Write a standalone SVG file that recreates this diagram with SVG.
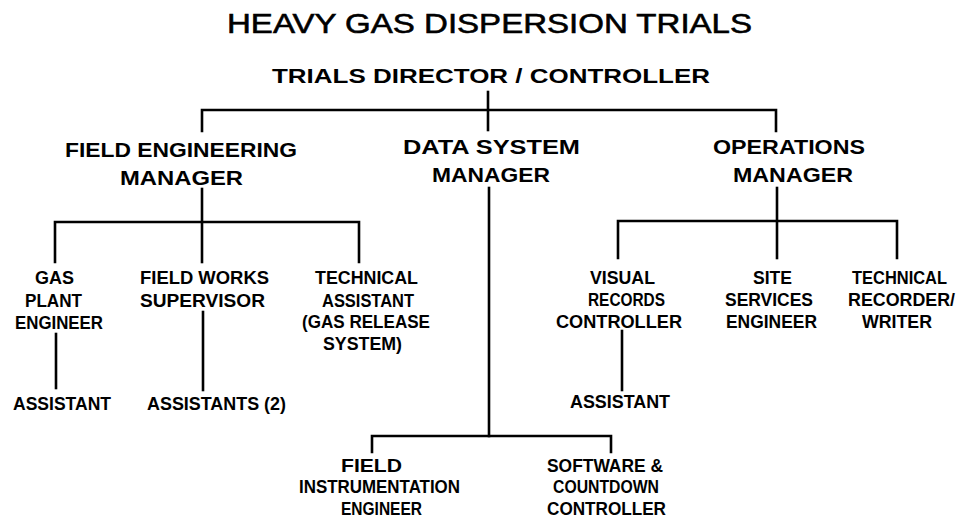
<svg xmlns="http://www.w3.org/2000/svg" width="965" height="519" viewBox="0 0 965 519">
  <style>
    text { font-family: "Liberation Sans", Arial, sans-serif; fill: #000; }
    .title { font-size: 28px; font-weight: normal; stroke: #000; stroke-width: 0.6; }
    .head { font-size: 20px; font-weight: bold; }
    .lbl { font-size: 19px; font-weight: bold; }
    .link { fill: none; stroke: #000; stroke-width: 2.6; stroke-linecap: square; }
  </style>
  <rect width="965" height="519" fill="#fff"/>

  <!-- connectors -->
  <g id="connectors">
    <!-- director to managers -->
    <path class="link" d="M488 92 V130"/>
    <path class="link" d="M202 131 V110 H776 V131"/>
    <!-- field engineering branch -->
    <path class="link" d="M202 189 V262"/>
    <path class="link" d="M55 262 V222 H359 V262"/>
    <path class="link" d="M56 334 V388"/>
    <path class="link" d="M203 312 V390"/>
    <!-- data system branch -->
    <path class="link" d="M489 188 V436"/>
    <path class="link" d="M372 452 V436 H611 V452"/>
    <!-- operations branch -->
    <path class="link" d="M777 188 V258"/>
    <path class="link" d="M618 258 V221 H897 V258"/>
    <path class="link" d="M622 331 V390"/>
  </g>

  <g id="title">
    <text class="title" x="227" y="33" textLength="525" lengthAdjust="spacingAndGlyphs">HEAVY GAS DISPERSION TRIALS</text>
  </g>

  <g id="director">
    <text class="head" x="272" y="83" textLength="438" lengthAdjust="spacingAndGlyphs">TRIALS DIRECTOR / CONTROLLER</text>
  </g>

  <g id="field-engineering-manager">
    <text class="head" x="65" y="157" textLength="232" lengthAdjust="spacingAndGlyphs">FIELD ENGINEERING</text>
    <text class="head" x="120" y="185" textLength="123" lengthAdjust="spacingAndGlyphs">MANAGER</text>
  </g>

  <g id="data-system-manager">
    <text class="head" x="403" y="154" textLength="177" lengthAdjust="spacingAndGlyphs">DATA SYSTEM</text>
    <text class="head" x="432" y="182" textLength="118" lengthAdjust="spacingAndGlyphs">MANAGER</text>
  </g>

  <g id="operations-manager">
    <text class="head" x="713" y="154" textLength="152" lengthAdjust="spacingAndGlyphs">OPERATIONS</text>
    <text class="head" x="733" y="182" textLength="120" lengthAdjust="spacingAndGlyphs">MANAGER</text>
  </g>

  <g id="gas-plant-engineer">
    <text class="lbl" x="35" y="284" textLength="39" lengthAdjust="spacingAndGlyphs">GAS</text>
    <text class="lbl" x="25" y="307" textLength="57" lengthAdjust="spacingAndGlyphs">PLANT</text>
    <text class="lbl" x="15" y="329" textLength="88" lengthAdjust="spacingAndGlyphs">ENGINEER</text>
  </g>

  <g id="field-works-supervisor">
    <text class="lbl" x="140" y="284" textLength="129" lengthAdjust="spacingAndGlyphs">FIELD WORKS</text>
    <text class="lbl" x="140" y="307" textLength="125" lengthAdjust="spacingAndGlyphs">SUPERVISOR</text>
  </g>

  <g id="technical-assistant">
    <text class="lbl" x="315" y="284" textLength="103" lengthAdjust="spacingAndGlyphs">TECHNICAL</text>
    <text class="lbl" x="322" y="307" textLength="92" lengthAdjust="spacingAndGlyphs">ASSISTANT</text>
    <text class="lbl" x="302" y="328" textLength="128" lengthAdjust="spacingAndGlyphs">(GAS RELEASE</text>
    <text class="lbl" x="323" y="350" textLength="79" lengthAdjust="spacingAndGlyphs">SYSTEM)</text>
  </g>

  <g id="gas-plant-assistant">
    <text class="lbl" x="13" y="410" textLength="98" lengthAdjust="spacingAndGlyphs">ASSISTANT</text>
  </g>

  <g id="field-works-assistants">
    <text class="lbl" x="147" y="410" textLength="139" lengthAdjust="spacingAndGlyphs">ASSISTANTS (2)</text>
  </g>

  <g id="visual-records-controller">
    <text class="lbl" x="590" y="284" textLength="65" lengthAdjust="spacingAndGlyphs">VISUAL</text>
    <text class="lbl" x="588" y="306" textLength="77" lengthAdjust="spacingAndGlyphs">RECORDS</text>
    <text class="lbl" x="556" y="328" textLength="126" lengthAdjust="spacingAndGlyphs">CONTROLLER</text>
  </g>

  <g id="site-services-engineer">
    <text class="lbl" x="753" y="284" textLength="39" lengthAdjust="spacingAndGlyphs">SITE</text>
    <text class="lbl" x="725" y="306" textLength="88" lengthAdjust="spacingAndGlyphs">SERVICES</text>
    <text class="lbl" x="726" y="328" textLength="91" lengthAdjust="spacingAndGlyphs">ENGINEER</text>
  </g>

  <g id="technical-recorder">
    <text class="lbl" x="852" y="284" textLength="95" lengthAdjust="spacingAndGlyphs">TECHNICAL</text>
    <text class="lbl" x="848" y="306" textLength="107" lengthAdjust="spacingAndGlyphs">RECORDER/</text>
    <text class="lbl" x="862" y="328" textLength="70" lengthAdjust="spacingAndGlyphs">WRITER</text>
  </g>

  <g id="visual-records-assistant">
    <text class="lbl" x="570" y="408" textLength="100" lengthAdjust="spacingAndGlyphs">ASSISTANT</text>
  </g>

  <g id="field-instrumentation-engineer">
    <text class="lbl" x="341" y="472" textLength="61" lengthAdjust="spacingAndGlyphs">FIELD</text>
    <text class="lbl" x="299" y="493" textLength="161" lengthAdjust="spacingAndGlyphs">INSTRUMENTATION</text>
    <text class="lbl" x="341" y="515" textLength="81" lengthAdjust="spacingAndGlyphs">ENGINEER</text>
  </g>

  <g id="software-countdown-controller">
    <text class="lbl" x="547" y="472" textLength="116" lengthAdjust="spacingAndGlyphs">SOFTWARE &amp;</text>
    <text class="lbl" x="553" y="493" textLength="106" lengthAdjust="spacingAndGlyphs">COUNTDOWN</text>
    <text class="lbl" x="547" y="515" textLength="119" lengthAdjust="spacingAndGlyphs">CONTROLLER</text>
  </g>
</svg>
